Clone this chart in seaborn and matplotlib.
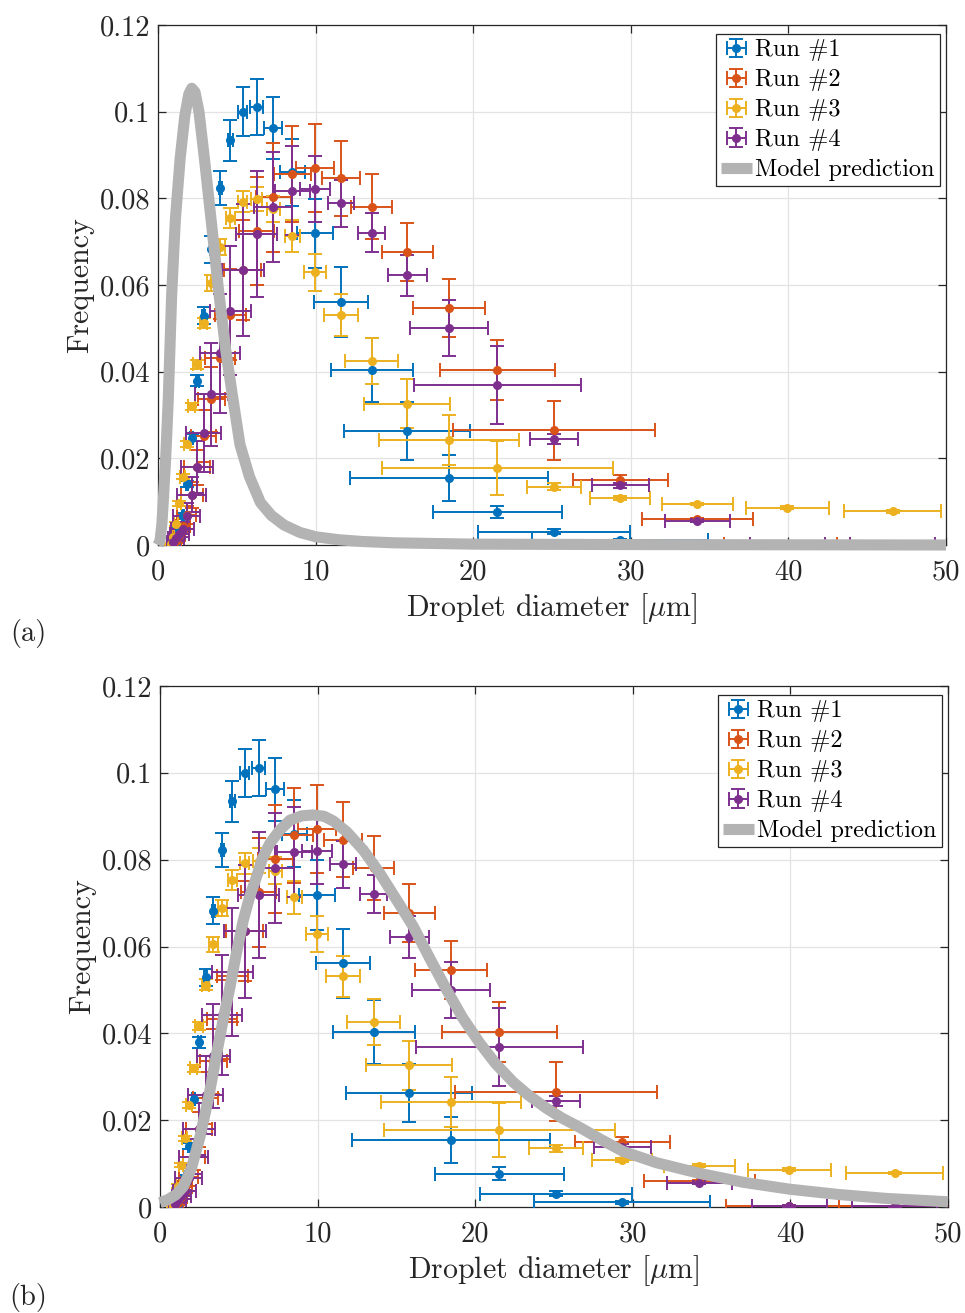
import numpy as np
import matplotlib
matplotlib.use("Agg")
import matplotlib.pyplot as plt
import seaborn as sns
from matplotlib.ticker import FixedLocator, FuncFormatter
from matplotlib.container import ErrorbarContainer
from matplotlib.legend_handler import HandlerErrorbar

nan = np.nan

# ---------------- data ----------------
bins = [0.84, 0.98, 1.15, 1.34, 1.56, 1.82, 2.13, 2.48, 2.89, 3.38, 3.94, 4.60, 5.37,
        6.26, 7.31, 8.53, 9.95, 11.61, 13.55, 15.82, 18.46, 21.54, 25.13, 29.33,
        34.23, 39.94, 46.61]

run1_y = [nan, 0.0002, 0.0008, 0.0035, 0.0068, 0.0141, 0.0248, 0.0379, 0.0529, 0.0682, 0.0823,
          0.0934, 0.1000, 0.1011, 0.0962, 0.0860, 0.0719, 0.0561, 0.0403, 0.0263, 0.0154,
          0.0077, 0.0031, 0.0011, nan, nan, nan]
run1_yerr = [nan, 0.0001, 0.0002, 0.0004, 0.0005, 0.0007, 0.0009, 0.0013, 0.0020, 0.0031, 0.0039,
             0.0047, 0.0056, 0.0065, 0.0072, 0.0077, 0.0080, 0.0080, 0.0074, 0.0067, 0.0053,
             0.0014, 0.0005, 0.0003, nan, nan, nan]
run1_xerr = [nan, 0.05, 0.05, 0.05, 0.06, 0.07, 0.08, 0.09, 0.10, 0.10, 0.10,
             0.15, 0.30, 0.42, 0.56, 0.80, 1.16, 1.70, 2.60, 4.00, 6.30,
             4.10, 4.85, 5.60, nan, nan, nan]

run2_y = [nan, 0.0005, 0.0010, 0.0022, 0.0045, 0.0069, 0.0115, 0.0179, 0.0252, 0.0336, 0.0432,
          0.0531, 0.0635, 0.0725, 0.0802, 0.0856, 0.0870, 0.0846, 0.0781, 0.0677, 0.0546,
          0.0404, 0.0265, 0.0150, 0.0059, 0.0003, 0.0002]
run2_yerr = [nan, 0.0003, 0.0005, 0.0010, 0.0015, 0.0020, 0.0030, 0.0040, 0.0060, 0.0075, 0.0090,
             0.0105, 0.0115, 0.0125, 0.0125, 0.0110, 0.0101, 0.0087, 0.0074, 0.0067, 0.0067,
             0.0069, 0.0068, 0.0012, 0.0004, 0.0002, 0.0001]
run2_xerr = [nan, 0.30, 0.30, 0.40, 0.50, 0.60, 0.70, 0.80, 0.80, 0.85, 0.95,
             1.00, 1.16, 1.10, 1.10, 1.20, 1.20, 1.22, 1.32, 1.62, 2.27,
             3.66, 6.40, 3.00, 3.50, 4.00, 3.50]

run3_y = [0.0003, 0.0018, 0.0048, 0.0096, 0.0158, 0.0234, 0.0320, 0.0417, 0.0512, 0.0605, 0.0688,
          0.0754, 0.0792, 0.0798, 0.0775, 0.0713, 0.0629, 0.0531, 0.0425, 0.0326, 0.0242,
          0.0177, 0.0135, 0.0109, 0.0095, 0.0086, 0.0078]
run3_yerr = [0.0002, 0.0003, 0.0004, 0.0005, 0.0006, 0.0007, 0.0008, 0.0010, 0.0012, 0.0018, 0.0018,
             0.0023, 0.0024, 0.0028, 0.0030, 0.0037, 0.0042, 0.0048, 0.0053, 0.0056, 0.0058,
             0.0062, 0.0008, 0.0005, 0.0003, 0.0003, 0.0003]
run3_xerr = [0.08, 0.10, 0.12, 0.15, 0.17, 0.20, 0.22, 0.24, 0.25, 0.27, 0.28,
             0.27, 0.30, 0.35, 0.40, 0.48, 0.70, 1.07, 1.68, 2.72, 4.45,
             7.30, 1.70, 1.90, 2.25, 2.65, 3.06]

run4_y = [nan, 0.0008, 0.0017, 0.0025, 0.0036, 0.0066, 0.0116, 0.0180, 0.0258, 0.0348, 0.0442,
          0.0541, 0.0635, 0.0718, 0.0780, 0.0818, 0.0821, 0.0789, 0.0721, 0.0622, 0.0500,
          0.0369, 0.0244, 0.0138, 0.0056, 0.0003, 0.0002]
run4_yerr = [nan, 0.0005, 0.0008, 0.0012, 0.0018, 0.0030, 0.0040, 0.0060, 0.0090, 0.0119, 0.0138,
             0.0148, 0.0153, 0.0145, 0.0127, 0.0103, 0.0076, 0.0054, 0.0044, 0.0048, 0.0065,
             0.0090, 0.0012, 0.0006, 0.0003, 0.0002, 0.0001]
run4_xerr = [nan, 0.40, 0.50, 0.60, 0.75, 0.85, 0.92, 1.00, 1.12, 1.05, 1.27,
             1.30, 1.33, 1.30, 1.20, 1.10, 0.95, 0.85, 0.87, 1.24, 2.46,
             5.30, 1.55, 1.80, 2.07, 2.40, 2.70]

run_names = ["Run #1", "Run #2", "Run #3", "Run #4"]
run_colors = ["#0072BD", "#D95319", "#EDB120", "#7E2F8E"]

# model prediction curves
model_a_x = [0.0, 0.13, 0.25, 0.34, 0.50, 0.65, 0.87, 1.10, 1.40, 1.70, 1.95, 2.14, 2.35,
             2.60, 2.95, 3.40, 3.85, 4.30, 4.70, 5.20, 5.80, 6.50, 7.20, 8.00, 9.00,
             10.0, 11.5, 13.0, 15.0, 20.0, 30.0, 50.0]
model_a_y = [0.0, 0.0010, 0.0050, 0.0104, 0.0210, 0.0335, 0.0580, 0.0750, 0.0890, 0.0990,
             0.1040, 0.1054, 0.1045, 0.1000, 0.0890, 0.0740, 0.0585, 0.0450, 0.0350, 0.0232,
             0.0158, 0.0098, 0.0068, 0.0046, 0.0029, 0.0019, 0.0012, 0.0008, 0.0005, 0.0002,
             0.0001, 0.0]

model_b_x = [0.0, 0.5, 1.0, 1.48, 2.0, 2.54, 3.1, 3.6, 4.0, 4.44, 4.85, 5.29, 5.7, 6.13,
             6.5, 6.98, 7.6, 8.25, 9.0, 9.7, 10.4, 11.0, 11.85, 12.9, 13.96, 15.0, 16.07,
             17.1, 18.19, 19.2, 20.3, 21.3, 22.4, 23.4, 24.5, 25.5, 26.65, 28.0, 29.39,
             31.5, 34.17, 37.0, 39.95, 43.0, 45.98, 50.0]
model_b_y = [0.0010, 0.0017, 0.0028, 0.0047, 0.0090, 0.0162, 0.0255, 0.0354, 0.0430, 0.0507,
             0.0585, 0.0661, 0.0716, 0.0761, 0.0803, 0.0838, 0.0868, 0.0891, 0.0901, 0.0903,
             0.0900, 0.0889, 0.0864, 0.0822, 0.0768, 0.0708, 0.0646, 0.0574, 0.0500, 0.0436,
             0.0377, 0.0330, 0.0288, 0.0257, 0.0228, 0.0205, 0.0183, 0.0155, 0.0128, 0.0102,
             0.0078, 0.0057, 0.0041, 0.0029, 0.0020, 0.0012]

x_ticks = [0, 10, 20, 30, 40, 50]
y_ticks = [0, 0.02, 0.04, 0.06, 0.08, 0.1, 0.12]

# ---------------- style ----------------
sns.set_theme(style="whitegrid")
plt.rcParams["font.family"] = ["cmr10", "DejaVu Serif"]
plt.rcParams["mathtext.fontset"] = "cm"
plt.rcParams["axes.formatter.use_mathtext"] = True
plt.rcParams["axes.unicode_minus"] = False

fig = plt.figure(figsize=(9.65, 13.13), dpi=100)
W, H = 965.0, 1313.0
ax_a = fig.add_axes([158 / W, 1 - 545 / H, 788 / W, 520 / H])
ax_b = fig.add_axes([160 / W, 1 - 1207 / H, 788 / W, 521 / H])

runs = [
    (run1_y, run1_yerr, run1_xerr),
    (run2_y, run2_yerr, run2_xerr),
    (run3_y, run3_yerr, run3_xerr),
    (run4_y, run4_yerr, run4_xerr),
]


def draw(ax, mx, my):
    bx = np.array(bins)
    for (yv, ye, xe), name, col in zip(runs, run_names, run_colors):
        yv = np.array(yv, float)
        ye = np.array(ye, float)
        xe = np.array(xe, float)
        m = ~np.isnan(yv)
        ax.errorbar(bx[m], yv[m], yerr=ye[m], xerr=xe[m], fmt="o", color=col,
                    ms=5.5, elinewidth=1.4, capsize=4.8, capthick=1.4,
                    label=name, zorder=3)
    sns.lineplot(x=mx, y=my, ax=ax, color="#b3b3b3", lw=8, estimator=None,
                 label="Model prediction", zorder=5, clip_on=False,
                 solid_joinstyle="round", solid_capstyle="butt")
    ax.set_xlim(0, 50)
    ax.set_ylim(0, 0.12)
    ax.xaxis.set_major_locator(FixedLocator(x_ticks))
    ax.yaxis.set_major_locator(FixedLocator(y_ticks))
    ax.xaxis.set_major_formatter(FuncFormatter(lambda v, p: "%g" % v))
    ax.yaxis.set_major_formatter(FuncFormatter(lambda v, p: "%g" % v))
    ax.grid(True, color="#e3e3e3", lw=0.9)
    ax.set_axisbelow(True)
    for s in ax.spines.values():
        s.set_color("#262626")
        s.set_linewidth(0.9)
        s.set_visible(True)
    ax.tick_params(axis="both", direction="in", length=6, width=0.9,
                   colors="#262626", labelcolor="#262626", labelsize=20.5,
                   bottom=True, left=True, top=True, right=True)
    ax.tick_params(axis="x", pad=10)
    ax.tick_params(axis="y", pad=5.5)
    ax.set_xlabel(r"Droplet diameter [$\mu$m]", fontsize=21.5, color="#262626", labelpad=4)
    ax.set_ylabel("Frequency", fontsize=21.5, color="#262626", labelpad=4)
    h, l = ax.get_legend_handles_labels()
    order = [i for i, t in enumerate(l) if t != "Model prediction"] + \
            [i for i, t in enumerate(l) if t == "Model prediction"]
    h = [h[i] for i in order]
    l = [l[i] for i in order]
    leg = ax.legend(h, l, loc="upper right", bbox_to_anchor=(1 - 6 / 788, 1 - 9 / 520),
                    borderaxespad=0, fontsize=17.5, frameon=True, fancybox=False,
                    framealpha=1, edgecolor="#262626", borderpad=0.22, labelspacing=0.32,
                    handlelength=1.25, handletextpad=0.15,
                    handler_map={ErrorbarContainer: HandlerErrorbar(xerr_size=0.38,
                                                                    yerr_size=0.38)})
    leg.get_frame().set_linewidth(0.9)
    for t in leg.get_texts():
        t.set_color("black")


draw(ax_a, model_a_x, model_a_y)
draw(ax_b, model_b_x, model_b_y)

fig.text(28 / W, 1 - 634 / H, "(a)", fontsize=20.5, ha="center", va="center", color="#262626")
fig.text(28 / W, 1 - 1297 / H, "(b)", fontsize=20.5, ha="center", va="center", color="#262626")

fig.savefig("out.png", dpi=100)
